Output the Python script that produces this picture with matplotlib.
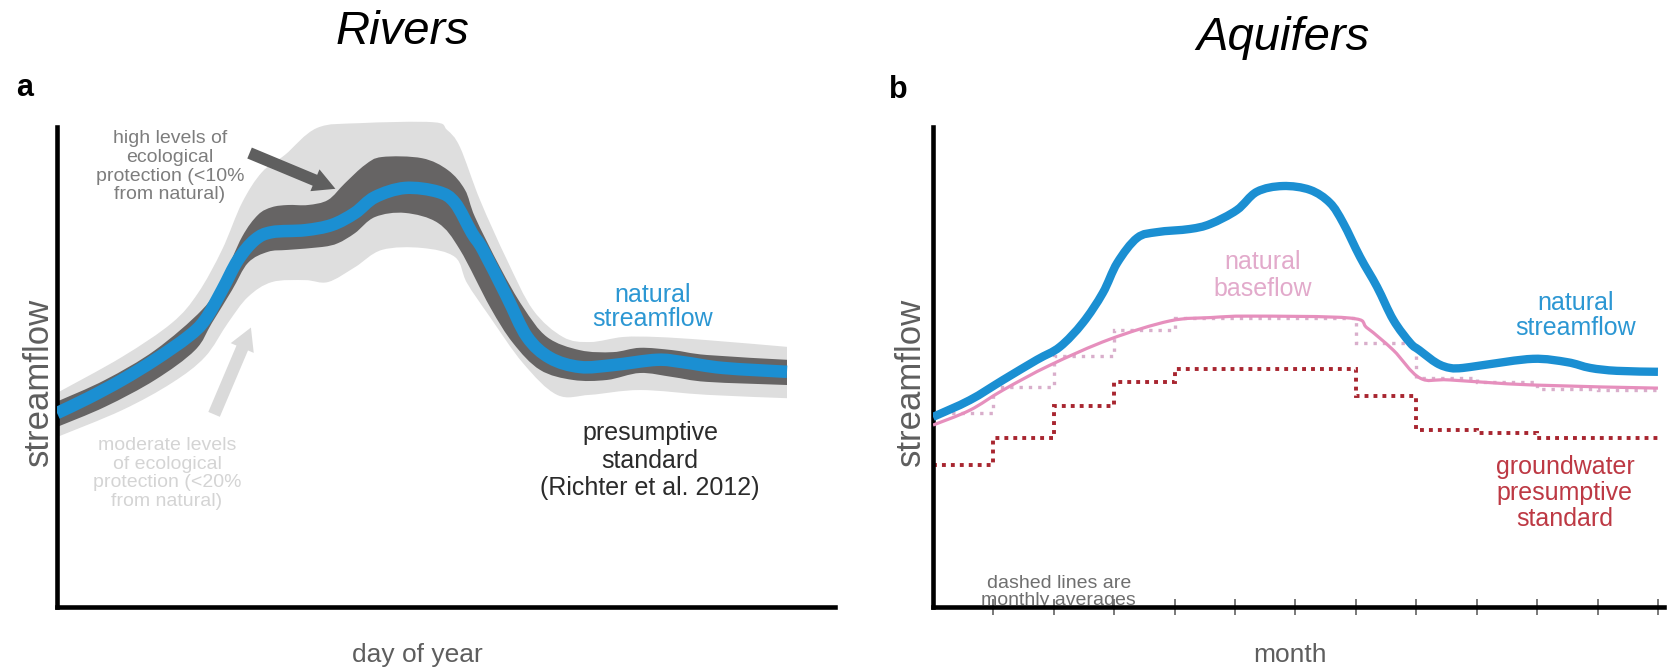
import numpy as np
import matplotlib
matplotlib.use("Agg")
import matplotlib.pyplot as plt
from matplotlib.patches import FancyArrowPatch, PathPatch
from matplotlib.path import Path

plt.rcParams['font.family'] = ['Liberation Sans', 'DejaVu Sans']

# ---------------- Rivers: natural streamflow and protection envelopes ----------------
day_natural = [0, 15.5, 32.5, 49, 65.5, 74, 82.5, 90.5, 99, 107.5, 124, 137.5, 149, 159,
               174, 190.5, 199, 207.5, 213, 225, 235, 246.5, 261.5, 278, 300, 313, 333, 365]
flow_natural = [40.4, 43.5, 47.3, 51.5, 56.3, 59.8, 66.0, 72.3, 76.5, 78.1, 78.5, 79.6, 82.1, 85.4,
                87.3, 86.5, 84.2, 77.9, 74.4, 64.6, 56.3, 51.9, 50.0, 50.4, 51.5, 51.0, 49.8, 49.0]

# high protection (<10 %) envelope
day_high_upper = [0, 24, 49, 72.5, 82.5, 92.5, 100.5, 107.5, 115.5, 125.5, 135.5, 144, 154, 162.5,
                  182.5, 195.5, 204, 209, 221.5, 233, 245, 261.5, 278, 291.5, 308, 325, 365]
flow_high_upper = [42.8, 47.3, 53.5, 61.9, 68.1, 77.1, 81.7, 83.3, 83.75, 83.75, 84.8, 88.3, 92.1, 93.75,
                   93.5, 91.0, 86.9, 81.25, 70.8, 62.5, 56.25, 53.5, 53.1, 54.0, 53.5, 52.5, 51.5]
day_high_lower = [0, 24, 49, 69, 77.5, 87.5, 95.5, 105.5, 115.5, 132.5, 140.5, 149, 159, 174,
                  190.5, 201.5, 216.5, 228, 241.5, 258, 275, 291.5, 308, 325, 365]
flow_high_lower = [37.5, 41.7, 47.3, 53.5, 59.2, 66.0, 71.7, 74.0, 74.4, 75.0, 75.8, 77.9, 81.25, 82.1,
                   80.0, 74.4, 62.5, 55.0, 49.4, 47.3, 47.3, 48.75, 47.9, 46.9, 46.25]

# moderate protection (<20 %) envelope
day_mod_upper = [0, 32.5, 57.5, 70.5, 82.5, 92.5, 102.5, 114, 130, 151.5, 188, 195, 201.5,
                 211.5, 225, 238, 253, 266.5, 283, 300, 325, 365]
flow_mod_upper = [44.6, 52.1, 59.2, 65.4, 74.4, 84.2, 90.6, 94.2, 99.8, 100.8, 101.0, 99.4, 95.8,
                  84.8, 72.3, 61.9, 56.25, 55.2, 56.25, 56.25, 55.6, 54.2]
day_mod_lower = [0, 32.5, 57.5, 74, 85.5, 95.5, 107.5, 124, 135.5, 149, 162.5, 182.5, 199,
                 205, 216.5, 233, 250, 266.5, 291.5, 325, 365]
flow_mod_lower = [35.4, 41.0, 46.7, 52.1, 59.2, 64.6, 67.7, 68.1, 67.7, 70.8, 74.4, 74.8, 72.9,
                  67.5, 60.4, 50.8, 44.2, 44.2, 45.2, 44.2, 43.5]

# ---------------- Aquifers: streamflow, baseflow and monthly standards ----------------
month_natural = [0, 0.61, 1.16, 1.72, 2.10, 2.48, 2.81, 3.05, 3.38, 3.71, 4.25, 4.59, 5.03, 5.36,
                 5.79, 6.24, 6.57, 6.79, 7.07, 7.35, 7.62, 7.90, 8.05, 8.34, 8.56, 8.77, 9.11,
                 9.93, 10.50, 10.88, 11.32, 12]
aq_flow_natural = [39.6, 43.1, 47.3, 51.5, 54.2, 59.2, 65.4, 71.7, 76.9, 78.1, 78.75, 79.8, 82.7, 86.5,
                   87.7, 86.9, 84.2, 80.0, 72.9, 66.7, 59.8, 55.0, 53.5, 50.8, 49.8, 49.8, 50.4,
                   51.7, 51.0, 49.8, 49.2, 49.0]

month_base = [0, 0.61, 1.16, 1.94, 2.93, 3.92, 4.6, 5.25, 6.90, 7.19, 7.62, 8.06, 8.56, 9.93, 12]
flow_base = [37.9, 41.0, 45.2, 50.4, 55.8, 59.6, 60.3, 60.6, 60.2, 58.1, 53.5, 47.7, 47.3, 46.25, 45.6]

month_edges = list(range(13))
baseflow_monthly = [40.4, 45.8, 52.3, 57.7, 60.2, 60.2, 60.2, 55.0, 47.7, 46.9, 45.4, 45.2]
gw_standard_monthly = [29.6, 35.2, 41.9, 46.9, 49.6, 49.6, 49.6, 44.0, 36.9, 36.25, 35.2, 35.2]

# ---------------- colours ----------------
C_BLUE = '#1b8fd2'
C_BLUE_TXT = '#2c97d3'
C_DARK = '#666464'
C_LIGHT = '#dedede'
C_PINK = '#e68fbd'
C_PINK_DOT = '#d9aecb'
C_PINK_TXT = '#e2aacb'
C_RED = '#a8252f'
C_RED_TXT = '#bd3944'
C_LABEL = '#5e5e5e'


def smooth_vertices(x, y):
    """Cubic Bezier (Catmull-Rom) vertices passing through every given point."""
    p = np.column_stack([x, y]).astype(float)
    ext = np.vstack([p[0], p, p[-1]])
    verts = [p[0]]
    for i in range(len(p) - 1):
        p0, p1, p2, p3 = ext[i], ext[i + 1], ext[i + 2], ext[i + 3]
        verts += [p1 + (p2 - p0) / 6.0, p2 - (p3 - p1) / 6.0, p2]
    return np.array(verts)


def smooth_line(ax, x, y, **kw):
    v = smooth_vertices(x, y)
    codes = [Path.MOVETO] + [Path.CURVE4] * (len(v) - 1)
    ax.add_patch(PathPatch(Path(v, codes), fill=False, **kw))


def smooth_band(ax, xu, yu, xl, yl, **kw):
    vu = smooth_vertices(xu, yu)
    vl = smooth_vertices(xl[::-1], yl[::-1])
    verts = np.vstack([vu, vl, vu[:1]])
    codes = ([Path.MOVETO] + [Path.CURVE4] * (len(vu) - 1) +
             [Path.LINETO] + [Path.CURVE4] * (len(vl) - 1) + [Path.CLOSEPOLY])
    ax.add_patch(PathPatch(Path(verts, codes), **kw))


W, H = 1667, 672
fig = plt.figure(figsize=(W / 100, H / 100), dpi=100)


def style_axes(ax, xmax):
    ax.set_xlim(0, xmax)
    ax.set_ylim(0, 105)
    for s in ('top', 'right'):
        ax.spines[s].set_visible(False)
    for s in ('left', 'bottom'):
        ax.spines[s].set_linewidth(3.3)
        ax.spines[s].set_color('black')
        ax.spines[s].set_capstyle('projecting')
    ax.spines['left'].set_bounds(0, 100)
    ax.set_yticks([])
    ax.patch.set_alpha(0)


# ---------------- panel a: Rivers ----------------
axL = fig.add_axes([57 / W, 65 / H, 778 / W, 504 / H])
style_axes(axL, 389)
axL.set_xticks([])

smooth_band(axL, day_mod_upper, flow_mod_upper, day_mod_lower, flow_mod_lower,
            facecolor=C_LIGHT, lw=0, zorder=1, clip_on=False)
smooth_band(axL, day_high_upper, flow_high_upper, day_high_lower, flow_high_lower,
            facecolor=C_DARK, lw=0, zorder=2, clip_on=False)
smooth_line(axL, day_natural, flow_natural, edgecolor=C_BLUE, lw=9,
            joinstyle='round', capstyle='butt', zorder=3)

axL.add_patch(FancyArrowPatch((95, 94.8), (140.5, 86.9),
                              arrowstyle='simple,head_width=1.7,head_length=1.6,tail_width=0.85',
                              mutation_scale=10, color='#5f5f5f', lw=0, zorder=4, clip_on=False))
axL.add_patch(FancyArrowPatch((78, 39.6), (97.5, 58.75),
                              arrowstyle='simple,head_width=1.8,head_length=1.6,tail_width=0.9',
                              mutation_scale=10, color='#dadada', lw=0, zorder=4, clip_on=False))

axL.text(56.5, 91.7, 'high levels of\necological\nprotection (<10%\nfrom natural)',
         ha='center', va='center', fontsize=14, color='#7d7d7d', linespacing=1.12)
axL.text(55, 27.8, 'moderate levels\nof ecological\nprotection (<20%\nfrom natural)',
         ha='center', va='center', fontsize=14, color='#d4d4d4', linespacing=1.12)
axL.text(298, 62.5, 'natural\nstreamflow', ha='center', va='center', fontsize=18,
         color=C_BLUE_TXT, linespacing=1.05)
axL.text(296.5, 30.5, 'presumptive\nstandard\n(Richter et al. 2012)', ha='center', va='center',
         fontsize=18, color='#2b2b2b', linespacing=1.2)

# ---------------- panel b: Aquifers ----------------
axR = fig.add_axes([933 / W, 65 / H, 731 / W, 504 / H])
style_axes(axR, 12.1)
axR.set_xticks(range(1, 13))
axR.set_xticklabels([])
axR.tick_params(axis='x', direction='inout', length=12, width=1.3, color='#6e6e6e')

axR.stairs(baseflow_monthly, month_edges, baseline=None, fill=False, color=C_PINK_DOT,
           lw=2.4, linestyle=(0, (1, 1.8)), zorder=2)
smooth_line(axR, month_base, flow_base, edgecolor=C_PINK, lw=2.3, joinstyle='round', zorder=3)
axR.stairs(gw_standard_monthly, month_edges, baseline=None, fill=False, color=C_RED,
           lw=2.8, linestyle=(0, (1, 1.3)), zorder=2)
smooth_line(axR, month_natural, aq_flow_natural, edgecolor=C_BLUE, lw=6,
            joinstyle='round', capstyle='butt', zorder=4)

axR.text(5.46, 69.0, 'natural\nbaseflow', ha='center', va='center', fontsize=18,
         color=C_PINK_TXT, linespacing=1.15)
axR.text(10.63, 60.8, 'natural\nstreamflow', ha='center', va='center', fontsize=18,
         color=C_BLUE_TXT, linespacing=1.05)
axR.text(10.46, 23.75, 'groundwater\npresumptive\nstandard', ha='center', va='center',
         fontsize=18, color=C_RED_TXT, linespacing=1.08)
axR.text(2.08, 3.2, 'dashed lines are\nmonthly averages', ha='center', va='center',
         fontsize=14, color='#6f6f6f', linespacing=1.0, zorder=1)

# ---------------- titles, panel letters and axis labels ----------------
fig.text(402 / W, 1 - 32 / H, 'Rivers', ha='center', va='center', fontsize=34, style='italic')
fig.text(1283 / W, 1 - 38 / H, 'Aquifers', ha='center', va='center', fontsize=34, style='italic')
fig.text(25 / W, 1 - 88 / H, 'a', ha='center', va='center', fontsize=22, fontweight='bold')
fig.text(898 / W, 1 - 90 / H, 'b', ha='center', va='center', fontsize=22, fontweight='bold')
fig.text(38 / W, 1 - 382 / H, 'streamflow', ha='center', va='center', fontsize=25,
         rotation=90, color=C_LABEL)
fig.text(910 / W, 1 - 382 / H, 'streamflow', ha='center', va='center', fontsize=25,
         rotation=90, color=C_LABEL)
fig.text(417 / W, 1 - 655 / H, 'day of year', ha='center', va='center', fontsize=19, color=C_LABEL)
fig.text(1290 / W, 1 - 655 / H, 'month', ha='center', va='center', fontsize=19, color=C_LABEL)

fig.savefig('out.png', dpi=100, facecolor='white')
